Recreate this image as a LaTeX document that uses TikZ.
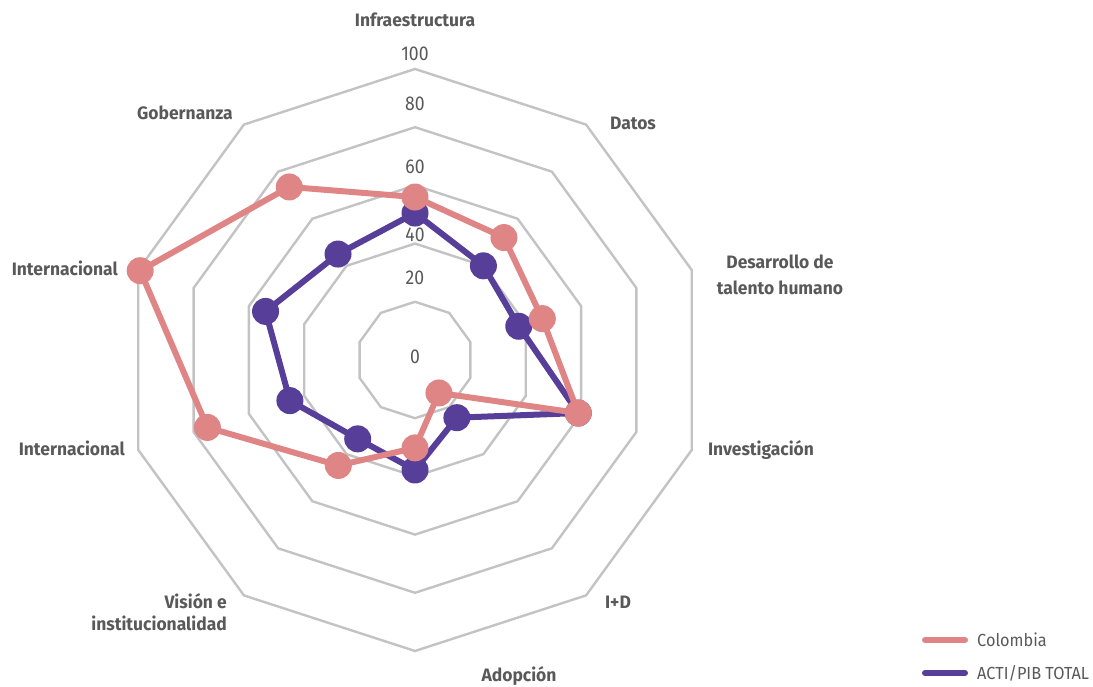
\documentclass[tikz,border=0pt]{standalone}
\usepackage{fontspec}
\setmainfont{Fira Sans}[FakeStretch=0.97]
\newfontfamily\numfont{Fira Sans}[FakeStretch=0.88]
\newfontfamily\legfont{Fira Sans}[FakeStretch=0.93]
\definecolor{pinkc}{HTML}{E08585}
\definecolor{purc}{HTML}{573E99}
\definecolor{ringc}{HTML}{C3C3C3}
\definecolor{txt}{HTML}{595959}
\begin{document}
\begin{tikzpicture}[x=1pt,y=1pt,
  ring/.style={draw=ringc, line width=2.4pt, line join=miter},
  series/.style={line width=6pt, line join=round},
  dot/.style={circle, inner sep=0pt, minimum size=27pt},
  axlab/.style={font=\fontsize{18}{22}\selectfont\bfseries, text=txt, inner sep=0pt},
  numlab/.style={font=\numfont\fontsize{20}{22}\selectfont, text=txt, inner sep=0pt},
  leglab/.style={font=\legfont\fontsize{17.5}{20}\selectfont, text=txt, inner sep=0pt, anchor=west},
  legline/.style={line width=6pt, line cap=round}]
\useasboundingbox (0,0) rectangle (1093,687);
\begin{scope}[shift={(415,327)}]
  \foreach \v in {20,40,60,80,100}{
    \draw[ring] (90:\v*2.91) \foreach \a in {54,18,-18,-54,-90,-126,-162,-198,-234}{ -- (\a:\v*2.91)} -- cycle;
  }
  \foreach \a/\c/\p [count=\i] in {90/56/50.5, 54/52/40, 18/46/37.5, -18/59/59, -54/14/24.5, -90/30.2/37.8, -126/44.8/33.5, -162/75/45.2, -198/99.3/54, -234/73.5/45}{
    \coordinate (c\i) at (\a:\c*2.91);
    \coordinate (p\i) at (\a:\p*2.91);
  }
\end{scope}
% ACTI/PIB series
\draw[series, draw=purc] (p1) -- (p2) -- (p3) -- (p4) -- (p5) -- (p6) -- (p7) -- (p8) -- (p9) -- (p10) -- cycle;
\foreach \i in {1,...,10}{ \node[dot, fill=purc] (pd\i) at (p\i) {}; }
% Colombia series
\draw[series, draw=pinkc] (c1) -- (c2) -- (c3) -- (c4) -- (c5) -- (c6) -- (c7) -- (c8) -- (c9) -- (c10) -- cycle;
\foreach \i in {1,...,10}{ \node[dot, fill=pinkc] (cd\i) at (c\i) {}; }
% scale numbers
\node[numlab] (n100) at (415,633) {100};
\node[numlab] (n80) at (415,583) {80};
\node[numlab] (n60) at (415,520) {60};
\node[numlab] (n40) at (415,452) {40};
\node[numlab] (n20) at (415,409) {20};
\node[numlab] (n0) at (415,330) {0};
% axis labels
\node[axlab] (infra) at (415,667) {Infraestructura};
\node[axlab] (datos) at (633,564) {Datos};
\node[axlab, align=center, font=\fontsize{18}{26}\selectfont\bfseries] (talento) at (780,412) {Desarrollo de\\talento humano};
\node[axlab] (invest) at (761,237) {Investigación};
\node[axlab] (imasd) at (618,85) {I+D};
\node[axlab] (adop) at (519,11) {Adopción};
\node[axlab, align=right, anchor=east, font=\fontsize{18}{21.5}\selectfont\bfseries] (vision) at (227,75) {Visión e\\institucionalidad};
\node[axlab, anchor=east] (intl) at (125,239) {Internacional};
\node[axlab, anchor=east] (intu) at (118,419) {Internacional};
\node[axlab] (gob) at (185,574) {Gobernanza};
% legend
\coordinate (l1a) at (925,47);
\coordinate (l1b) at (965,47);
\coordinate (l2a) at (925,14);
\coordinate (l2b) at (965,14);
\draw[legline, pinkc] (l1a) -- (l1b);
\draw[legline, purc] (l2a) -- (l2b);
\node[leglab] (lc) at (977,47) {Colombia};
\node[leglab] (la) at (977,14) {ACTI/PIB TOTAL};
\end{tikzpicture}
\end{document}
